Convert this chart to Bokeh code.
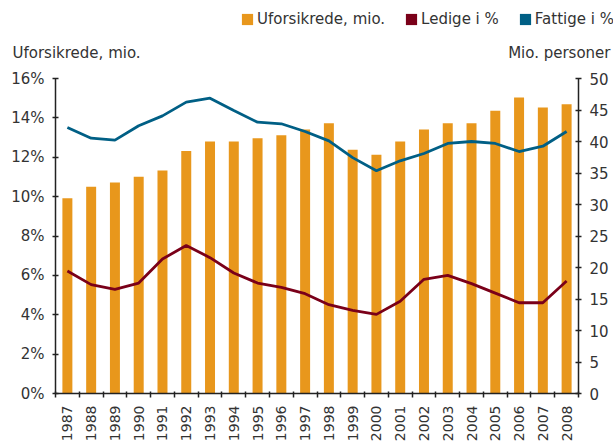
from bokeh.plotting import figure
from bokeh.models import (Range1d, LinearAxis, FixedTicker, PrintfTickFormatter,
                          Legend, LegendItem, Label, ColumnDataSource)
from bokeh.embed import file_html
from bokeh.resources import INLINE
import math

years = list(range(1987, 2009))
year_labels = [str(y) for y in years]

# Uninsured, millions (right axis)
uforsikrede = [31.0, 32.8, 33.5, 34.4, 35.4, 38.5, 40.0, 40.0, 40.5, 41.0, 41.9,
               42.9, 38.7, 37.9, 40.0, 41.9, 42.9, 42.9, 44.9, 47.0, 45.4, 45.9]
# Unemployed, % (left axis)
ledige = [6.22, 5.53, 5.29, 5.61, 6.83, 7.52, 6.9, 6.12, 5.61, 5.39, 5.07,
          4.51, 4.22, 4.02, 4.69, 5.80, 6.0, 5.58, 5.10, 4.61, 4.61, 5.71]
# Poor, % (left axis)
fattige = [13.51, 12.97, 12.87, 13.6, 14.1, 14.8, 15.0, 14.37, 13.78, 13.7, 13.31,
           12.83, 11.98, 11.31, 11.82, 12.19, 12.7, 12.8, 12.7, 12.29, 12.56, 13.31]

left_ticks = [0, 2, 4, 6, 8, 10, 12, 14, 16]
right_ticks = [0, 5, 10, 15, 20, 25, 30, 35, 40, 45, 50]

series_names = ["Uforsikrede, mio.", "Ledige i %", "Fattige i %"]
left_title = "Uforsikrede, mio."
right_title = "Mio. personer"

ORANGE = "#E8971C"
RED = "#7A0019"
BLUE = "#005F85"
AX = "#222222"
TXT = "#333333"
FONT = "DejaVu Sans"

# ---- layout in pixels: the frame covers the whole canvas, the chart area sits inside ----
W, H = 613, 441
PL, PR, PT, PB = 55, 578, 78, 393          # chart area (left, right, top, bottom)
X0, X1 = years[0] - 0.5, years[-1] + 0.5
L0, L1 = left_ticks[0], left_ticks[-1]
R0, R1 = right_ticks[0], right_ticks[-1]

def extend(v0, v1, p0, p1, total, flip=False):
    per = (v1 - v0) / (p1 - p0)
    if flip:   # pixel axis grows downward
        return v0 - (total - p1) * per, v1 + p0 * per
    return v0 - p0 * per, v1 + (total - p1) * per

xr = Range1d(*extend(X0, X1, PL, PR, W))
yr = Range1d(*extend(L0, L1, PT, PB, H, flip=True))
rr = Range1d(*extend(R0, R1, PT, PB, H, flip=True))

p = figure(width=W, height=H, output_backend="svg", toolbar_location=None,
           x_range=xr, y_range=yr,
           min_border=0, min_border_left=0, min_border_right=0,
           min_border_top=0, min_border_bottom=0,
           x_axis_location=None, y_axis_location=None)
p.outline_line_color = None
p.xgrid.visible = False
p.ygrid.visible = False
p.background_fill_color = "white"
p.border_fill_color = "white"
p.extra_y_ranges = {"mio": rr}

src = ColumnDataSource(dict(x=years, u=uforsikrede, l=ledige, f=fattige))

bars = p.vbar(x="x", top="u", width=0.42, source=src, y_range_name="mio",
              fill_color=ORANGE, line_color=None)
p.line(x="x", y="l", source=src, line_color=RED, line_width=2.8)
p.line(x="x", y="f", source=src, line_color=BLUE, line_width=2.8)

# legend swatches for the two lines: zero-height bars (invisible in the chart)
sw_red = p.vbar(x="x", top="l", bottom="l", width=0.42, source=src,
                fill_color=RED, line_color=None)
sw_blue = p.vbar(x="x", top="f", bottom="f", width=0.42, source=src,
                 fill_color=BLUE, line_color=None)

# ---- axes (fixed locations, so they take no border space) ----
xa = LinearAxis(fixed_location=L0, bounds=(X0, X1),
                ticker=FixedTicker(ticks=years, minor_ticks=[y - 0.5 for y in years] + [X1]))
xa.major_label_overrides = {y: s for y, s in zip(years, year_labels)}
xa.major_label_orientation = math.pi / 2
xa.major_tick_in = 0
xa.major_tick_out = 0
xa.minor_tick_in = 2
xa.minor_tick_out = 4
xa.minor_tick_line_color = AX
xa.minor_tick_line_width = 1.5
xa.axis_line_color = AX
xa.axis_line_width = 1.5
xa.major_label_text_font = FONT
xa.major_label_text_font_size = "14px"
xa.major_label_text_color = TXT
xa.major_label_standoff = 8
p.add_layout(xa, "below")

def style_y(ax):
    ax.major_tick_in = 3
    ax.major_tick_out = 3
    ax.major_tick_line_color = AX
    ax.major_tick_line_width = 1.5
    ax.axis_line_color = AX
    ax.axis_line_width = 1.5
    ax.major_label_text_font = FONT
    ax.major_label_text_font_size = "15px"
    ax.major_label_text_color = TXT
    ax.major_label_standoff = 8

ya = LinearAxis(fixed_location=X0, bounds=(L0, L1),
                ticker=FixedTicker(ticks=left_ticks, minor_ticks=[]),
                formatter=PrintfTickFormatter(format="%d%%"))
style_y(ya)
p.add_layout(ya, "left")

ra = LinearAxis(y_range_name="mio", fixed_location=X1, bounds=(R0, R1),
                ticker=FixedTicker(ticks=right_ticks, minor_ticks=[]))
style_y(ra)
p.add_layout(ra, "right")

# ---- legend and axis titles ----
series = Legend(items=[LegendItem(label=series_names[0], renderers=[bars]),
                       LegendItem(label=series_names[1], renderers=[sw_red]),
                       LegendItem(label=series_names[2], renderers=[sw_blue])],
                orientation="horizontal", location=(240, H - 29))
series.glyph_width = 14
series.glyph_height = 14
series.label_standoff = 3
series.spacing = 19
series.padding = 0
series.margin = 0
series.border_line_color = None
series.background_fill_alpha = 0
series.label_text_font = FONT
series.label_text_font_size = "15px"
series.label_text_color = TXT
series.label_height = 20
p.add_layout(series, "center")

p.add_layout(Label(x=12, y=H - 52, x_units="screen", y_units="screen",
                   text=left_title, text_font=FONT, text_font_size="15px",
                   text_color=TXT, text_baseline="middle"))
p.add_layout(Label(x=610, y=H - 52, x_units="screen", y_units="screen",
                   text=right_title, text_font=FONT, text_font_size="15px",
                   text_color=TXT, text_baseline="middle", text_align="right"))

open("out.html", "w").write(file_html(p, INLINE))
